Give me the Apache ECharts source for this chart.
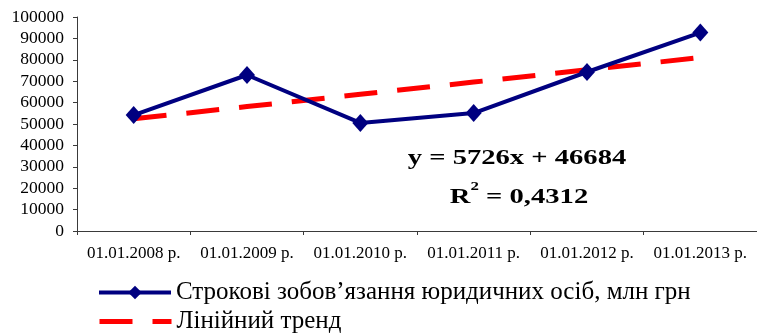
<!DOCTYPE html>
<html>
<head>
<meta charset="utf-8">
<script src="https://cdn.jsdelivr.net/npm/echarts@6/dist/echarts.min.js"></script>
<style>
  html, body { margin: 0; padding: 0; background: #fff; }
  #chart { width: 757px; height: 334px; }
</style>
</head>
<body>
<div id="chart"></div>
<script>
// Term liabilities of legal entities, UAH mln, with a linear trend
const categories = ['01.01.2008 р.', '01.01.2009 р.', '01.01.2010 р.', '01.01.2011 р.', '01.01.2012 р.', '01.01.2013 р.'];
const liabilities = [54200, 72900, 50500, 55100, 74300, 92700];
// Trend values at x = 1..6 for y = 5726x + 46684
const trend = [52410, 58136, 63862, 69588, 75314, 81040];
const yTicks = { min: 0, max: 100000, interval: 10000 };

const seriesNames = ['Строкові зобов’язання юридичних осіб, млн грн', 'Лінійний тренд'];
const equationText = 'y = 5726x + 46684';
const rSquaredText = '0,4312';

const serif = '"Liberation Serif", "Times New Roman", serif';
const axisColor = '#3a3a3a';
const navy = '#000080';
const red = '#ff0000';

const legendBase = {
  orient: 'vertical',
  left: 97,
  padding: 0,
  itemWidth: 72, itemHeight: 17,
  itemTextGap: 4,
  textStyle: { fontFamily: serif, fontSize: 25, color: '#000' }
};

const chart = echarts.init(document.getElementById('chart'), null, { renderer: 'canvas' });

chart.setOption({
  animation: false,
  backgroundColor: '#ffffff',
  grid: { left: 77, right: -4, top: 17, bottom: 103, containLabel: false },
  xAxis: {
    type: 'category',
    data: categories,
    boundaryGap: true,
    axisLine: { show: true, lineStyle: { color: axisColor, width: 1 } },
    axisTick: { show: true, alignWithLabel: false, length: 4, lineStyle: { color: axisColor } },
    axisLabel: {
      interval: 0, margin: 14,
      color: '#000', fontFamily: serif, fontSize: 17
    },
    splitLine: { show: false }
  },
  yAxis: {
    type: 'value',
    min: yTicks.min, max: yTicks.max, interval: yTicks.interval,
    axisLine: { show: true, lineStyle: { color: axisColor, width: 1 } },
    axisTick: { show: true, length: 4, inside: false, lineStyle: { color: axisColor } },
    axisLabel: {
      margin: 13, color: '#000', fontFamily: serif, fontSize: 17.5,
      formatter: function (v) { return String(v); }
    },
    splitLine: { show: false }
  },
  legend: [
    Object.assign({}, legendBase, {
      top: 280,
      data: [{ name: seriesNames[0], lineStyle: { width: 4 } }]
    }),
    Object.assign({}, legendBase, {
      top: 309,
      data: [{ name: seriesNames[1], lineStyle: { width: 5 }, itemStyle: { opacity: 0 } }]
    })
  ],
  series: [
    {
      name: seriesNames[0],
      type: 'line',
      data: liabilities,
      symbol: 'diamond',
      symbolSize: [16, 18],
      itemStyle: { color: navy },
      lineStyle: { color: navy, width: 4 },
      z: 3
    },
    {
      name: seriesNames[1],
      type: 'line',
      data: trend,
      symbol: 'none',
      itemStyle: { color: red },
      lineStyle: { color: red, width: 5, type: [33, 20] },
      z: 2
    }
  ],
  graphic: [
    {
      type: 'text',
      x: 517, y: 158,
      scaleX: 1.3,
      style: {
        text: equationText,
        fontFamily: serif, fontWeight: 'bold', fontSize: 22,
        fill: '#000', align: 'center', verticalAlign: 'middle'
      }
    },
    {
      type: 'text',
      x: 519, y: 192,
      scaleX: 1.3,
      style: {
        text: '{r|R}{s|2}{r| = ' + rSquaredText + '}',
        align: 'center', verticalAlign: 'middle',
        rich: {
          r: { fontFamily: serif, fontWeight: 'bold', fontSize: 22, color: '#000', verticalAlign: 'bottom', height: 24 },
          s: { fontFamily: serif, fontWeight: 'bold', fontSize: 13, color: '#000', verticalAlign: 'top', height: 24, padding: [0, 0, 10, 0] }
        }
      }
    }
  ]
});
</script>
</body>
</html>
